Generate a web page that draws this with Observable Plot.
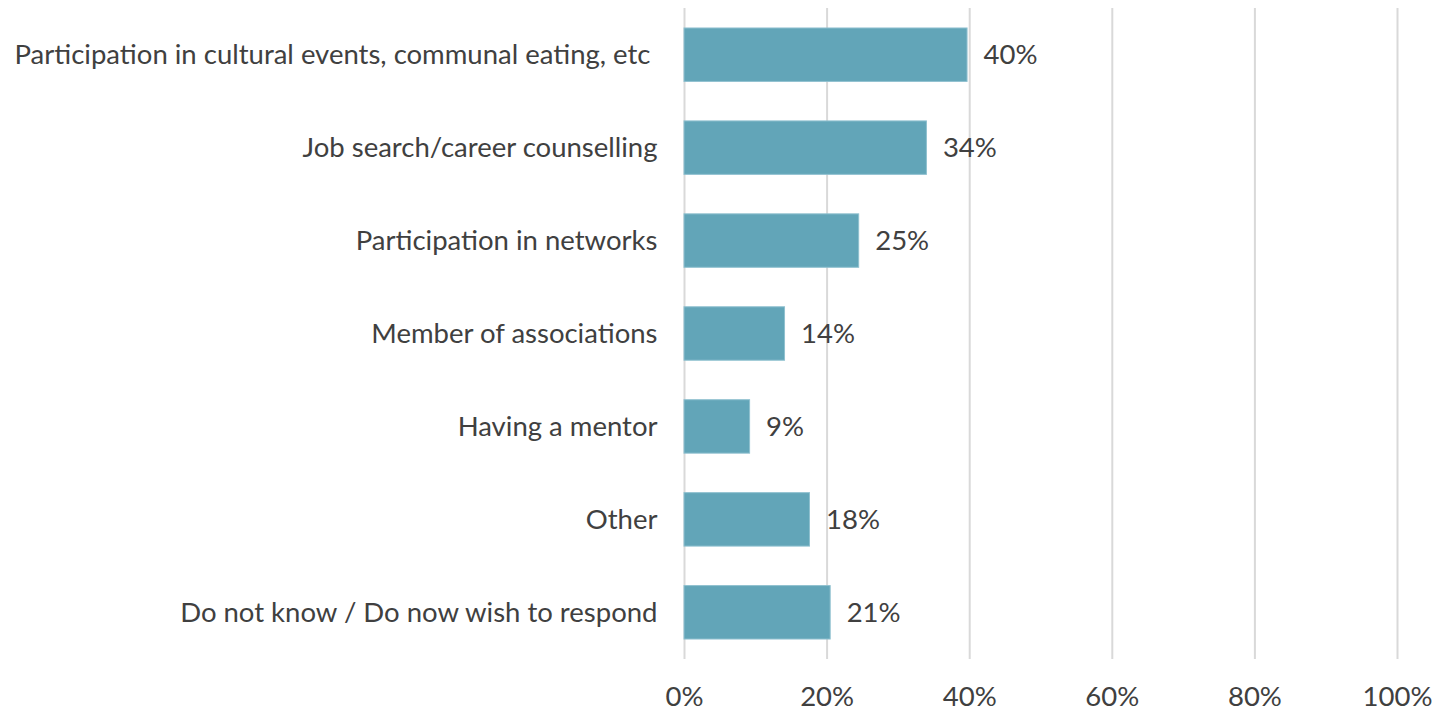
<!DOCTYPE html>
<html>
<head>
<meta charset="utf-8">
<script src="https://cdn.jsdelivr.net/npm/d3@7"></script>
<script src="https://cdn.jsdelivr.net/npm/@observablehq/plot@0.6"></script>
<style>
  html, body { margin: 0; padding: 0; background: #fff; }
  #chart svg { display: block; }
</style>
</head>
<body>
<div id="chart"></div>
<script>
const categories = [
  "Participation in cultural events, communal eating, etc ",
  "Job search/career counselling",
  "Participation in networks",
  "Member of associations",
  "Having a mentor",
  "Other",
  "Do not know / Do now wish to respond"
];
const values = [0.397, 0.340, 0.245, 0.141, 0.092, 0.176, 0.205];
const valueLabels = ["40%", "34%", "25%", "14%", "9%", "18%", "21%"];
const xTicks = [0, 0.2, 0.4, 0.6, 0.8, 1.0];

const data = categories.map((c, i) => ({category: c, value: values[i], label: valueLabels[i]}));

const textColor = "#404040";
const barColor = "#62A5B8";
const fs = 27.5;

const chart = Plot.plot({
  width: 1432,
  height: 714,
  marginLeft: 684,
  marginRight: 35,
  marginTop: 8,
  marginBottom: 55,
  style: {fontFamily: "Lato, 'Open Sans', sans-serif", fontSize: fs + "px", color: textColor, background: "#fff"},
  x: {domain: [0, 1], label: null},
  y: {domain: categories, paddingInner: 0.425, paddingOuter: 0.215, round: false, label: null},
  marks: [
    Plot.gridX(xTicks, {stroke: "#d9d9d9", strokeOpacity: 1, strokeWidth: 2}),
    Plot.barX(data, {y: "category", x: "value", fill: barColor, stroke: "#8fc0cf", strokeWidth: 1}),
    Plot.text(data, {y: "category", x: "value", text: "label", textAnchor: "start", dx: 16, fill: textColor, fontSize: fs}),
    Plot.axisX({ticks: xTicks, tickFormat: d => Math.round(d * 100) + "%", tickSize: 0, tickPadding: 27, fontSize: fs, fill: textColor}),
    Plot.axisY({tickSize: 0, tickPadding: 27, fontSize: fs, fill: textColor, style: {whiteSpace: "pre"}})
  ]
});
document.getElementById("chart").appendChild(chart);
</script>
</body>
</html>
